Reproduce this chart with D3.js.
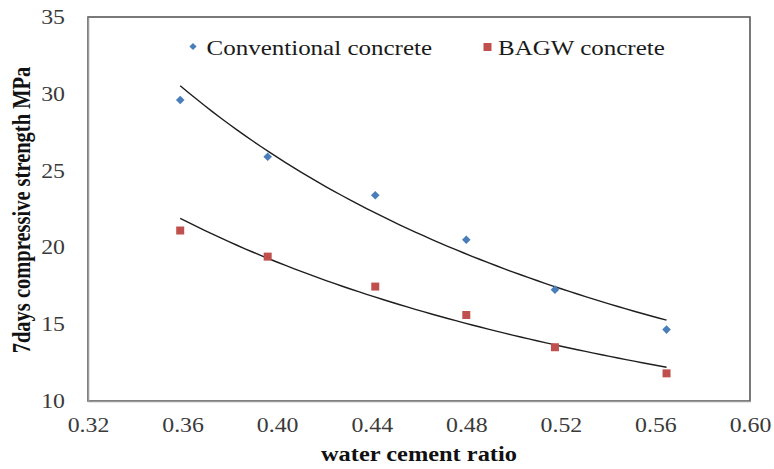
<!DOCTYPE html>
<html>
<head>
<meta charset="utf-8">
<script src="https://cdn.jsdelivr.net/npm/d3@7"></script>
<style>
  html, body { margin: 0; padding: 0; background: #fff; }
  svg { display: block; font-family: "Liberation Serif", "Times New Roman", serif; }
</style>
</head>
<body>
<svg id="chart" width="774" height="469"></svg>
<script>
// Water/cement ratios of the six mixes
const waterCementRatio = [0.359, 0.396, 0.4415, 0.480, 0.5175, 0.5647];
// 7-day compressive strength (MPa)
const conventional = [29.6, 25.9, 23.4, 20.5, 17.25, 14.65];
const bagw = [21.1, 19.4, 17.45, 15.6, 13.5, 11.8];

const xTicks = [0.32, 0.36, 0.40, 0.44, 0.48, 0.52, 0.56, 0.60];
const yTicks = [10, 15, 20, 25, 30, 35];
const seriesNames = ["Conventional concrete", "BAGW concrete"];

const W = 774, H = 469;
const m = { left: 88, right: 24, top: 17, bottom: 68 };
const stretch = 1.19; // horizontal text proportion

const svg = d3.select("#chart");
const x = d3.scaleLinear().domain([0.32, 0.60]).range([m.left, W - m.right]);
const y = d3.scaleLinear().domain([10, 35]).range([H - m.bottom, m.top]);

// widen horizontal text
function widen(sel) {
  sel.each(function () {
    const w = this.getComputedTextLength();
    d3.select(this).attr("textLength", w * stretch).attr("lengthAdjust", "spacingAndGlyphs");
  });
}

// plot frame
svg.append("rect")
  .attr("x", x(0.32)).attr("y", y(35))
  .attr("width", x(0.60) - x(0.32)).attr("height", y(10) - y(35))
  .attr("fill", "none").attr("stroke", "#4d4d4d").attr("stroke-width", 1.5);

// axes
const gx = svg.append("g").attr("transform", `translate(0,${y(10)})`)
  .call(d3.axisBottom(x).tickValues(xTicks).tickSize(0).tickPadding(16.5).tickFormat(d3.format(".2f")));
const gy = svg.append("g").attr("transform", `translate(${x(0.32)},0)`)
  .call(d3.axisLeft(y).tickValues(yTicks).tickSize(0).tickPadding(23).tickFormat(d3.format("d")));
[gx, gy].forEach(g => {
  g.select(".domain").attr("stroke", "#999").attr("stroke-width", 1.5);
  g.selectAll("text").attr("font-family", "Liberation Serif, serif")
    .attr("font-size", 20).attr("fill", "#3a3a3a").call(widen);
});

// power-law trendlines (least squares on log-log)
function powerFit(xs, ys) {
  const lx = xs.map(Math.log), ly = ys.map(Math.log);
  const mx = d3.mean(lx), my = d3.mean(ly);
  const b = d3.sum(lx, (v, i) => (v - mx) * (ly[i] - my)) / d3.sum(lx, v => (v - mx) ** 2);
  const a = Math.exp(my - b * mx);
  return v => a * Math.pow(v, b);
}
const x0 = d3.min(waterCementRatio), x1 = d3.max(waterCementRatio);
const samples = d3.range(0, 61).map(i => x0 + (x1 - x0) * i / 60);
const line = d3.line().x(d => x(d[0])).y(d => y(d[1]));
[conventional, bagw].forEach(vals => {
  const f = powerFit(waterCementRatio, vals);
  svg.append("path")
    .attr("d", line(samples.map(v => [v, f(v)])))
    .attr("fill", "none").attr("stroke", "#1e1e1e").attr("stroke-width", 1.4);
});

// markers
const blue = "#4a7ebb", red = "#c0504d";
const diamond = (cx, cy, r) => `M${cx},${cy - r}L${cx + r},${cy}L${cx},${cy + r}L${cx - r},${cy}Z`;
svg.append("g").selectAll("path").data(conventional).join("path")
  .attr("d", (d, i) => diamond(x(waterCementRatio[i]), y(d), 4.3))
  .attr("fill", blue);
svg.append("g").selectAll("rect").data(bagw).join("rect")
  .attr("x", (d, i) => x(waterCementRatio[i]) - 4).attr("y", d => y(d) - 4)
  .attr("width", 8).attr("height", 8).attr("fill", red);

// legend
const lg = svg.append("g");
lg.append("path").attr("d", diamond(193, 46.5, 3.6)).attr("fill", blue);
lg.append("text").attr("x", 206.5).attr("y", 54.5).attr("font-size", 21)
  .attr("fill", "#1a1a1a").text(seriesNames[0]).call(widen);
lg.append("rect").attr("x", 483.5).attr("y", 43).attr("width", 8).attr("height", 8).attr("fill", red);
lg.append("text").attr("x", 498).attr("y", 54.5).attr("font-size", 21)
  .attr("fill", "#1a1a1a").text(seriesNames[1]).call(widen);

// axis titles
svg.append("text").attr("x", (x(0.32) + x(0.60)) / 2).attr("y", 461)
  .attr("text-anchor", "middle").attr("font-size", 20.5).attr("font-weight", "bold")
  .attr("fill", "#111").text("water cement ratio").call(widen);
svg.append("text")
  .attr("transform", `translate(30,${(y(10) + y(35)) / 2 + 1}) scale(${stretch},1) rotate(-90)`)
  .attr("text-anchor", "middle").attr("font-size", 20.5).attr("font-weight", "bold")
  .attr("fill", "#111").text("7days compressive strength MPa");
</script>
</body>
</html>
